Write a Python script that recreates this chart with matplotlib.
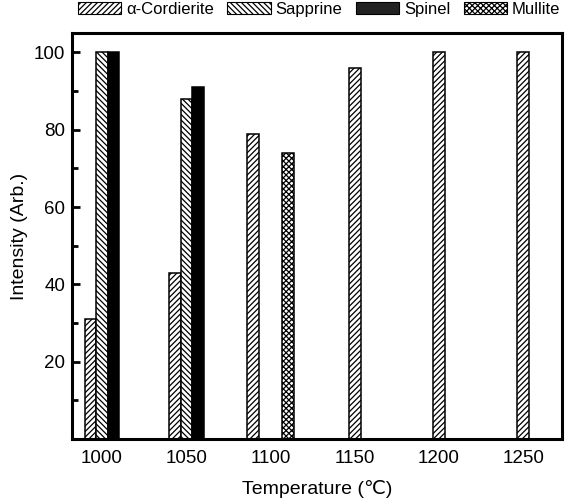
import numpy as np
import matplotlib
matplotlib.use("Agg")
import matplotlib.pyplot as plt
from matplotlib.ticker import MultipleLocator
from matplotlib.patches import Patch

plt.rcParams['font.family'] = ['Liberation Sans', 'DejaVu Sans']
plt.rcParams['hatch.linewidth'] = 0.9

temperatures = ['1000', '1050', '1100', '1150', '1200', '1250']
series_names = ['α-Cordierite', 'Sapprine', 'Spinel', 'Mullite']
cordierite = [31, 43, 79, 96, 100, 100]
sapprine = [100, 88, None, None, None, None]
spinel = [100, 91, None, None, None, None]
mullite = [None, None, 74, None, None, None]
series_values = [cordierite, sapprine, spinel, mullite]

faces = ['white', 'white', 'black', 'white']
hatches = ['//////', '\\\\\\\\\\\\', None, 'xxxxxx']

fig = plt.figure(figsize=(5.72, 5.04), dpi=100)
ax = fig.add_axes([0.126, 0.129, 0.8565, 0.8055])

w = 0.137
x = np.arange(len(temperatures))
for gi in range(len(temperatures)):
    present = [si for si in range(len(series_values)) if series_values[si][gi] is not None]
    center = np.mean(present)
    for si in present:
        ax.bar(x[gi] + (si - center) * w, series_values[si][gi], width=w,
               facecolor=faces[si], edgecolor='black', hatch=hatches[si],
               linewidth=1.1)

legend_faces = ['white', 'white', '#222222', 'white']
handles = [Patch(facecolor=legend_faces[i], edgecolor='black', hatch=hatches[i], linewidth=0.8,
                 label=series_names[i]) for i in range(4)]
fig.legend(handles=handles, loc='center', bbox_to_anchor=(0.558, 0.981), ncol=4,
           frameon=False, fontsize=12, handlelength=2.6, handleheight=0.75,
           handletextpad=0.3, columnspacing=0.8, borderaxespad=0)

ax.set_xlim(-0.356, 5.46)
ax.set_ylim(0, 105)
ax.set_xticks(x)
ax.set_xticklabels(temperatures)
ax.yaxis.set_minor_locator(MultipleLocator(10))
ax.set_yticks([20, 40, 60, 80, 100])
ax.tick_params(axis='x', length=0, labelsize=13.5, pad=8)
ax.tick_params(axis='y', which='major', direction='in', length=6, width=2, labelsize=13.5, pad=5)
ax.tick_params(axis='y', which='minor', direction='in', length=4, width=2)
for s in ax.spines.values():
    s.set_linewidth(2.2)

ax.set_xlabel('Temperature (℃)', fontsize=14, labelpad=9)
ax.set_ylabel('Intensity (Arb.)', fontsize=14, labelpad=4)

fig.savefig('out.png', dpi=100)
